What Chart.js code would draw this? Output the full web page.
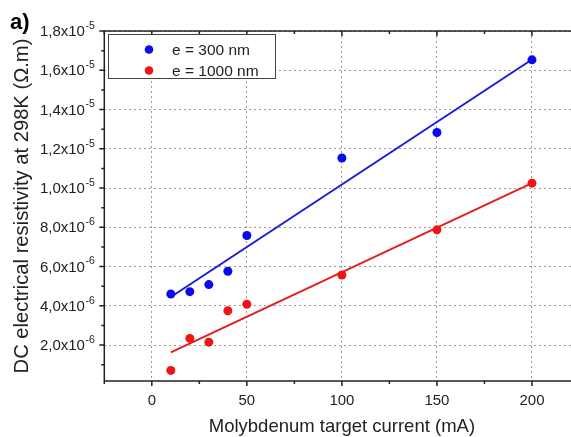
<!doctype html>
<html>
<head>
<title>DC resistivity vs target current</title>
	<script src="https://cdn.jsdelivr.net/npm/chart.js@4/dist/chart.umd.min.js"></script>
	<style>
		html, body {
			margin: 0;
			padding: 0;
			overflow: hidden;
			background: #fff;
		}
		#wrap {
			width: 600px;
			height: 437px;
		}
	</style>
</head>

<body>
	<div id="wrap">
		<canvas id="canvas" width="600" height="437"></canvas>
	</div>
	<script>
		// measured values
		var currents = [10, 20, 30, 40, 50, 100, 150, 200];
		var rho300 = [4.60e-6, 4.72e-6, 5.08e-6, 5.76e-6, 7.58e-6, 1.153e-5, 1.283e-5, 1.653e-5];
		var rho1000 = [0.71e-6, 2.34e-6, 2.15e-6, 3.75e-6, 4.08e-6, 5.57e-6, 7.87e-6, 1.025e-5];

		// linear fits, end points
		var fitCurrents = [10, 200];
		var fit300 = [4.45e-6, 1.655e-5];
		var fit1000 = [1.63e-6, 1.025e-5];

		var seriesLabels = ['e = 300 nm', 'e = 1000 nm'];

		var xTicks = [0, 50, 100, 150, 200];
		var xMinorTicks = [-25, 25, 75, 125, 175];
		var yTicks = [2e-6, 4e-6, 6e-6, 8e-6, 1e-5, 1.2e-5, 1.4e-5, 1.6e-5, 1.8e-5];
		var yTickLabels = ['2,0x10', '4,0x10', '6,0x10', '8,0x10', '1,0x10', '1,2x10', '1,4x10', '1,6x10', '1,8x10'];
		var yTickExponents = ['-6', '-6', '-6', '-6', '-5', '-5', '-5', '-5', '-5'];
		var yMinorTicks = [1e-6, 3e-6, 5e-6, 7e-6, 9e-6, 1.1e-5, 1.3e-5, 1.5e-5, 1.7e-5];

		var yTitle = 'DC electrical resistivity at 298K (\u03A9.m)';
		var panelLabel = 'a)';
		var blue = '#0a0af0';
		var red = '#f01414';
		var axisColor = '#222';
		var fontFamily = '"Liberation Sans", Arial, sans-serif';

		function pairs(xs, ys) {
			return xs.map(function(x, i) {
				return {x: x, y: ys[i]};
			});
		}

		var framePlugin = {
			id: 'frame',
			afterDraw: function(chart) {
				var ctx = chart.ctx;
				var area = chart.chartArea;
				var xs = chart.scales.x;
				var ys = chart.scales.y;
				ctx.save();
				ctx.strokeStyle = axisColor;
				ctx.lineWidth = 1.5;
				ctx.strokeRect(area.left, area.top, area.right - area.left, area.bottom - area.top);

				ctx.beginPath();
				xTicks.forEach(function(v) {
					var px = xs.getPixelForValue(v);
					ctx.moveTo(px, area.bottom);
					ctx.lineTo(px, area.bottom + 5);
					ctx.moveTo(px, area.top);
					ctx.lineTo(px, area.top + 5);
				});
				xMinorTicks.forEach(function(v) {
					var px = xs.getPixelForValue(v);
					ctx.moveTo(px, area.bottom);
					ctx.lineTo(px, area.bottom + 3);
					ctx.moveTo(px, area.top);
					ctx.lineTo(px, area.top + 3);
				});
				yTicks.forEach(function(v) {
					var py = ys.getPixelForValue(v);
					ctx.moveTo(area.left - 5, py);
					ctx.lineTo(area.left, py);
				});
				yMinorTicks.forEach(function(v) {
					var py = ys.getPixelForValue(v);
					ctx.moveTo(area.left - 3, py);
					ctx.lineTo(area.left, py);
				});
				ctx.stroke();

				// y tick labels with superscript exponent
				ctx.fillStyle = '#222';
				ctx.textBaseline = 'middle';
				ctx.textAlign = 'left';
				yTicks.forEach(function(v, i) {
					var py = ys.getPixelForValue(v);
					ctx.font = '10.5px ' + fontFamily;
					var ew = ctx.measureText(yTickExponents[i]).width;
					ctx.font = '15px ' + fontFamily;
					var bw = ctx.measureText(yTickLabels[i]).width;
					var right = area.left - 10;
					var x0 = right - ew - bw;
					ctx.fillText(yTickLabels[i], x0, py + 1);
					ctx.font = '10.5px ' + fontFamily;
					ctx.fillText(yTickExponents[i], x0 + bw + 0.5, py - 5);
				});

				// y axis title
				ctx.save();
				ctx.translate(22, 206);
				ctx.rotate(-Math.PI / 2);
				ctx.textAlign = 'center';
				ctx.font = '20.2px ' + fontFamily;
				ctx.fillText(yTitle, 0, 0);
				ctx.restore();

				// legend box
				ctx.fillStyle = '#fff';
				ctx.fillRect(108, 34, 168, 45);
				ctx.lineWidth = 1;
				ctx.strokeStyle = '#444';
				ctx.strokeRect(108.5, 34.5, 167, 44);
				ctx.font = '15.5px ' + fontFamily;
				ctx.textBaseline = 'middle';
				[0, 1].forEach(function(i) {
					var ds = chart.data.datasets[i];
					var cy = 49.5 + i * 21;
					ctx.fillStyle = ds.backgroundColor;
					ctx.beginPath();
					ctx.arc(149, cy, 4.3, 0, Math.PI * 2);
					ctx.fill();
					ctx.fillStyle = '#222';
					ctx.fillText(ds.label, 172, cy + 1);
				});

				ctx.font = 'bold 22px ' + fontFamily;
				ctx.textBaseline = 'alphabetic';
				ctx.fillStyle = '#000';
				ctx.fillText(panelLabel, 10, 29);
				ctx.restore();
			}
		};

		var config = {
			type: 'scatter',
			data: {
				datasets: [{
					label: seriesLabels[0],
					data: pairs(currents, rho300),
					backgroundColor: blue,
					borderColor: blue,
					pointRadius: 4.5,
					borderWidth: 0
				}, {
					label: seriesLabels[1],
					data: pairs(currents, rho1000),
					backgroundColor: red,
					borderColor: red,
					pointRadius: 4.5,
					borderWidth: 0
				}, {
					label: 'fit 300',
					data: pairs(fitCurrents, fit300),
					showLine: true,
					pointRadius: 0,
					borderColor: '#1c1cd0',
					borderWidth: 2
				}, {
					label: 'fit 1000',
					data: pairs(fitCurrents, fit1000),
					showLine: true,
					pointRadius: 0,
					borderColor: '#e02020',
					borderWidth: 2
				}]
			},
			options: {
				responsive: false,
				animation: false,
				layout: {
					padding: {top: 31, right: 20.5, left: 0, bottom: 0}
				},
				plugins: {
					legend: {display: false},
					tooltip: {enabled: false}
				},
				scales: {
					x: {
						type: 'linear',
						min: -25,
						max: 225,
						afterBuildTicks: function(scale) {
							scale.ticks = xTicks.map(function(v) {
								return {value: v};
							});
						},
						afterFit: function(scale) {
							scale.height = 56;
						},
						grid: {
							drawTicks: false,
							color: '#9a9a9a',
							lineWidth: 1
						},
						border: {
							display: false,
							dash: [2, 3]
						},
						ticks: {
							padding: 11,
							color: '#222',
							font: {family: fontFamily, size: 15}
						},
						title: {
							display: true,
							text: 'Molybdenum target current (mA)',
							color: '#222',
							padding: {top: 0, bottom: 0},
							font: {family: fontFamily, size: 18.5, lineHeight: 1.1}
						}
					},
					y: {
						min: 1.7e-7,
						max: 1.8e-5,
						afterBuildTicks: function(scale) {
							scale.ticks = yTicks.map(function(v) {
								return {value: v};
							});
						},
						afterFit: function(scale) {
							scale.width = 104.3;
						},
						grid: {
							drawTicks: false,
							color: '#9a9a9a',
							lineWidth: 1
						},
						border: {
							display: false,
							dash: [2, 3]
						},
						ticks: {
							display: false
						}
					}
				}
			},
			plugins: [framePlugin]
		};

		window.onload = function() {
			var ctx = document.getElementById('canvas').getContext('2d');
			window.myChart = new Chart(ctx, config);
		};
	</script>
</body>

</html>
